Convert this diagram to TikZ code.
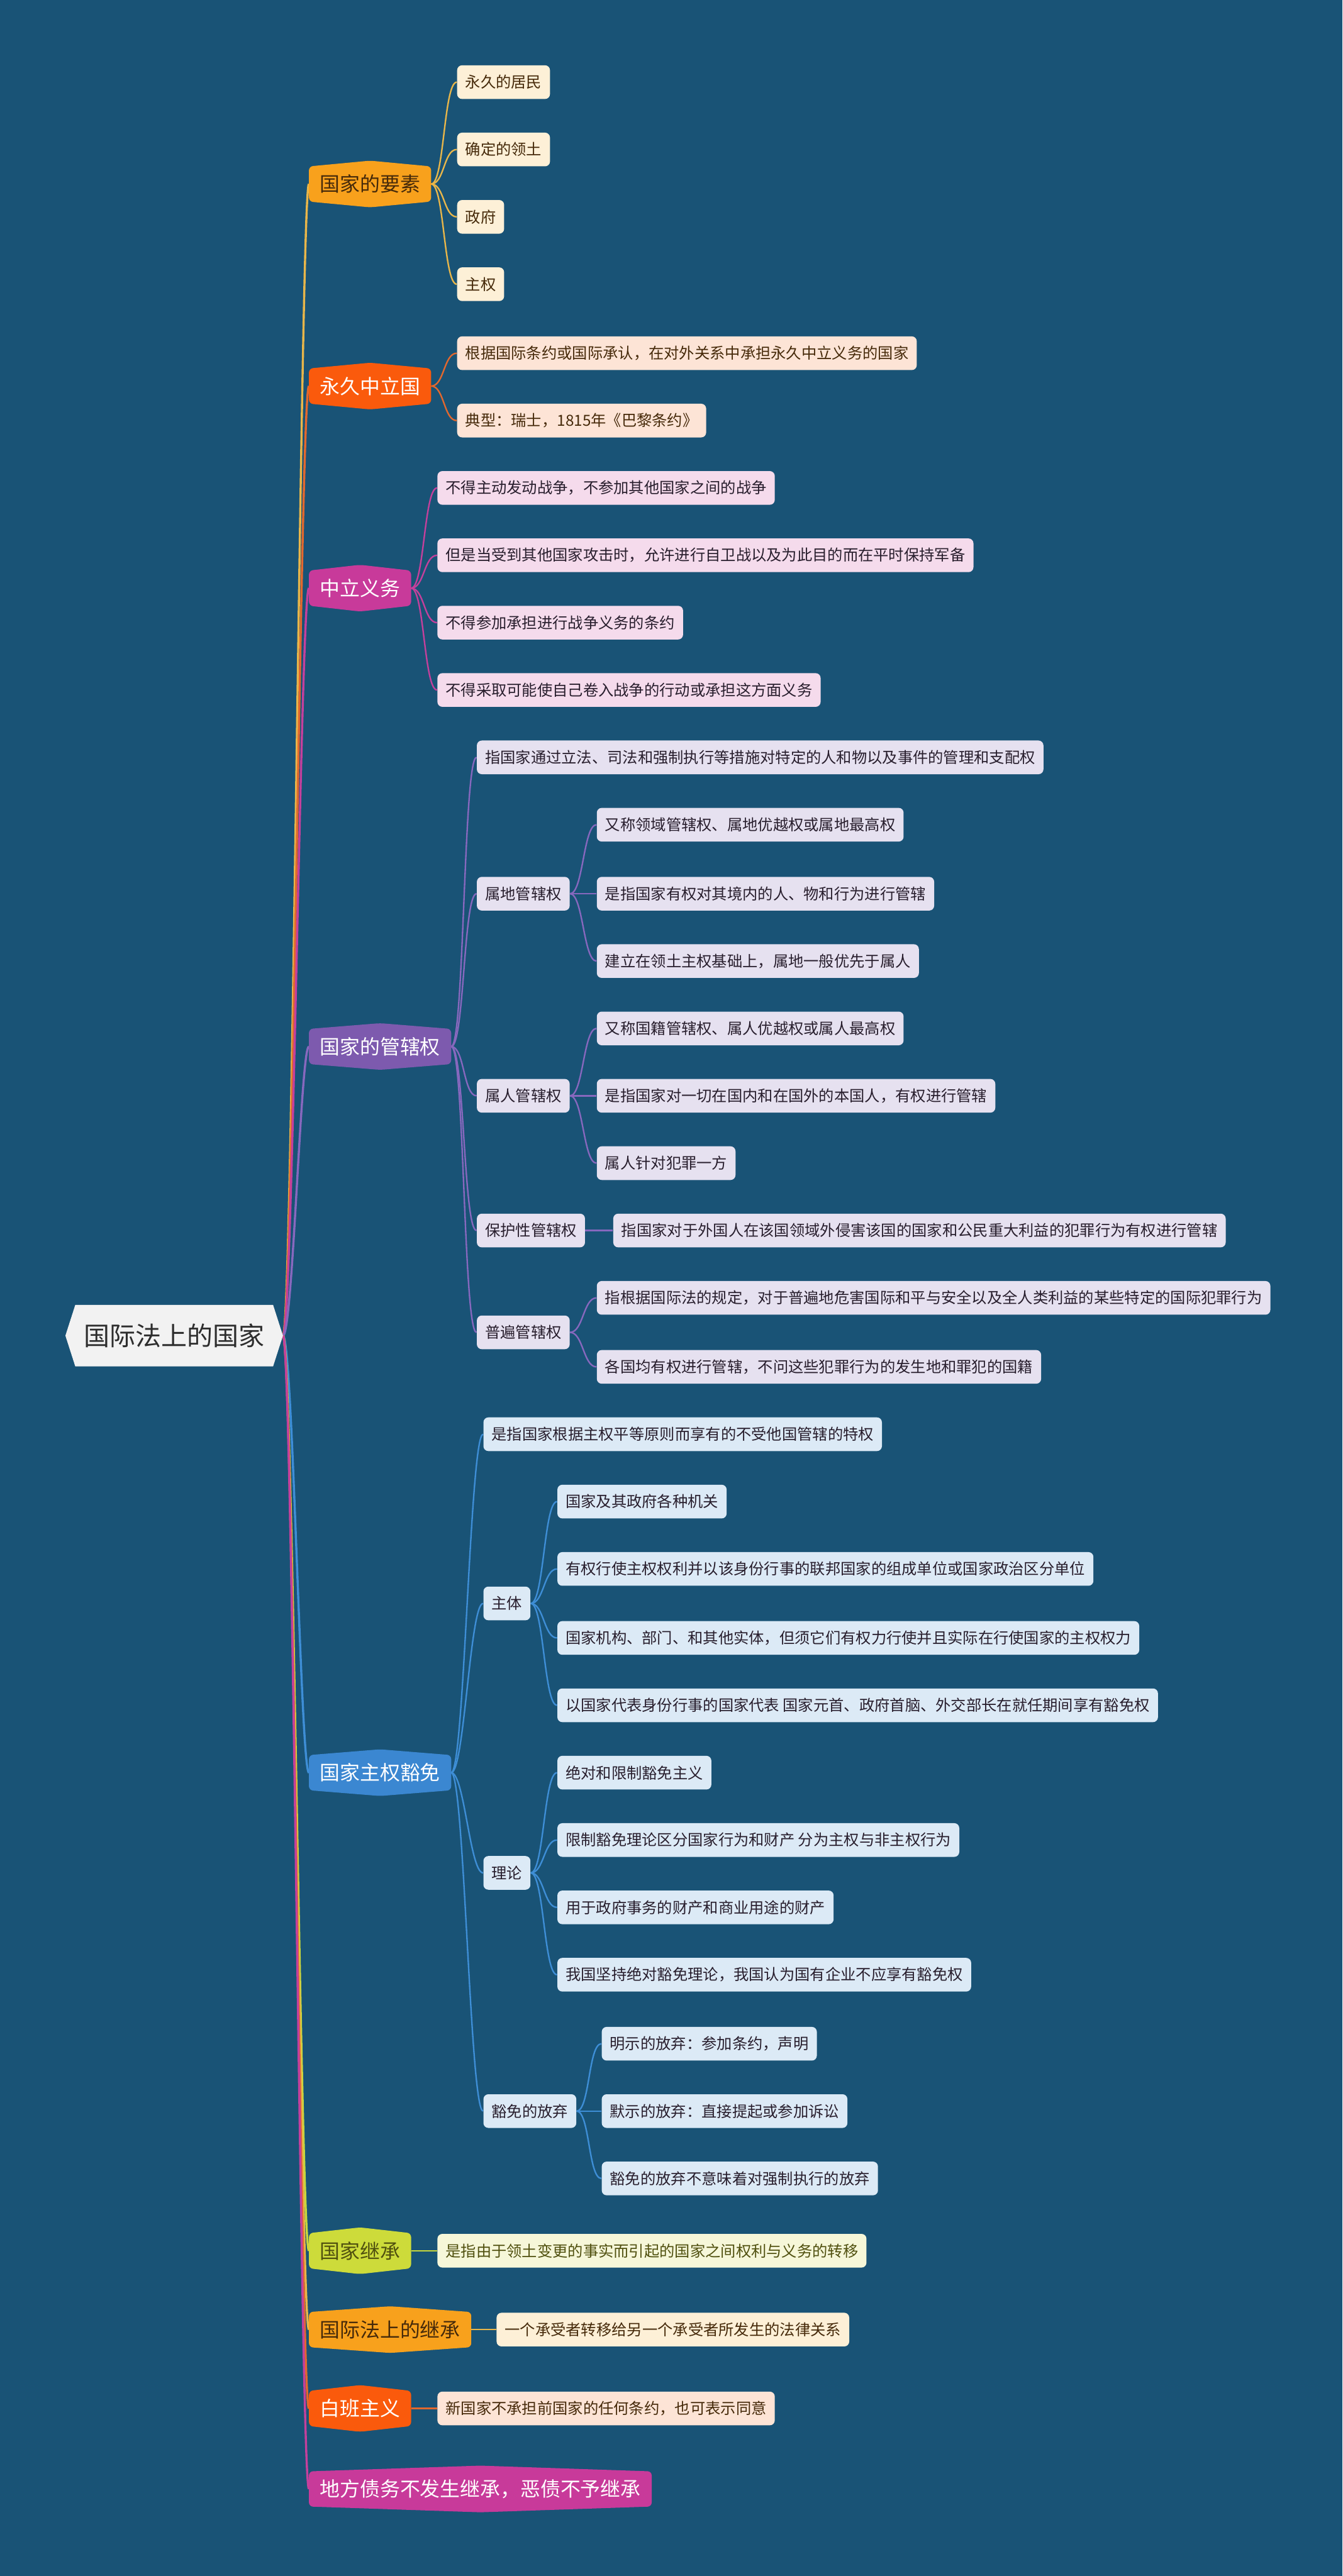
\documentclass[tikz,border=0pt]{standalone}
\usepackage{fontspec}
\setmainfont{Noto Sans CJK SC}
\usetikzlibrary{backgrounds,positioning}

\definecolor{bgblue}{RGB}{25,83,118}
\definecolor{rootfill}{RGB}{242,242,242}
\definecolor{rootink}{RGB}{45,45,45}
\definecolor{orangeB}{RGB}{248,161,28}
\definecolor{redB}{RGB}{250,90,12}
\definecolor{magentaB}{RGB}{200,58,154}
\definecolor{purpleB}{RGB}{125,90,174}
\definecolor{blueB}{RGB}{59,135,209}
\definecolor{limeB}{RGB}{205,219,58}
\definecolor{orangeL}{RGB}{232,182,74}
\definecolor{redL}{RGB}{226,104,46}
\definecolor{magentaL}{RGB}{196,64,156}
\definecolor{purpleL}{RGB}{135,104,190}
\definecolor{blueL}{RGB}{62,142,214}
\definecolor{limeL}{RGB}{200,215,60}
\definecolor{creamF}{RGB}{253,240,215}
\definecolor{peachF}{RGB}{253,228,214}
\definecolor{pinkF}{RGB}{245,219,236}
\definecolor{lavF}{RGB}{230,225,240}
\definecolor{skyF}{RGB}{220,234,246}
\definecolor{yellowF}{RGB}{246,247,217}
\definecolor{brownink}{RGB}{70,42,10}
\definecolor{darkink}{RGB}{40,30,45}
\definecolor{oliveink}{RGB}{80,80,15}

\begin{document}
\begin{tikzpicture}[x=1pt, y=-1pt,
  root/.style={font=\fontsize{15.7}{18}\selectfont, text=rootink, minimum width=120pt, minimum height=37pt, inner sep=0pt},
  branch/.style={anchor=west, font=\fontsize{12.2}{14}\selectfont, inner xsep=6.5pt, inner ysep=0pt, minimum height=21pt},
  leaf/.style={anchor=west, rounded corners=3pt, font=\fontsize{9.3}{11}\selectfont, inner xsep=5pt, inner ysep=0pt, minimum height=20.5pt},
  creamleaf/.style={leaf, fill=creamF, text=brownink},
  peachleaf/.style={leaf, fill=peachF, text=brownink},
  pinkleaf/.style={leaf, fill=pinkF, text=darkink},
  lavleaf/.style={leaf, fill=lavF, text=darkink},
  skyleaf/.style={leaf, fill=skyF, text=darkink},
  yellowleaf/.style={leaf, fill=yellowF, text=oliveink},
  lk/.style={line width=0.9pt},
  trunk/.style={line width=1.3pt}
]
\useasboundingbox (0,0) rectangle (817,1568);

\node[root] (root) at (106,813) {国际法上的国家};
\coordinate (rtip) at ([xshift=6pt]root.east);

% main branches
\foreach \n/\y/\t/\ink in {elements/112/国家的要素/brownink, neutral/235/永久中立国/white,
    duties/358/中立义务/white, jurisdiction/637/国家的管辖权/white,
    immunity/1079/国家主权豁免/white, succession/1370/国家继承/oliveink,
    inherit/1418/国际法上的继承/brownink, cleanslate/1466/白班主义/white,
    localdebt/1515/地方债务不发生继承，恶债不予继承/white}
  \node[branch, text=\ink] (\n) at (188,\y) {\t};

% 国家的要素, 永久中立国, 中立义务
\foreach \n/\y/\t in {elem1/50/永久的居民, elem2/91/确定的领土, elem3/132/政府, elem4/173/主权}
  \node[creamleaf] (\n) at (278,\y) {\t};
\foreach \n/\y/\t in {neut1/215/根据国际条约或国际承认，在对外关系中承担永久中立义务的国家,
    neut2/256/典型：瑞士，1815年《巴黎条约》}
  \node[peachleaf] (\n) at (278,\y) {\t};
\foreach \n/\y/\t in {duty1/297/不得主动发动战争，不参加其他国家之间的战争,
    duty2/338/但是当受到其他国家攻击时，允许进行自卫战以及为此目的而在平时保持军备,
    duty3/379/不得参加承担进行战争义务的条约,
    duty4/420/不得采取可能使自己卷入战争的行动或承担这方面义务}
  \node[pinkleaf] (\n) at (266,\y) {\t};

% 国家的管辖权
\foreach \n/\y/\t in {jur0/461/指国家通过立法、司法和强制执行等措施对特定的人和物以及事件的管理和支配权,
    jurTerr/544/属地管辖权, jurPers/667/属人管辖权, jurProt/749/保护性管辖权, jurUniv/811/普遍管辖权}
  \node[lavleaf] (\n) at (290,\y) {\t};
\foreach \n/\y/\t in {terr1/502/又称领域管辖权、属地优越权或属地最高权,
    terr2/544/是指国家有权对其境内的人、物和行为进行管辖,
    terr3/585/建立在领土主权基础上，属地一般优先于属人,
    pers1/626/又称国籍管辖权、属人优越权或属人最高权,
    pers2/667/是指国家对一切在国内和在国外的本国人，有权进行管辖,
    pers3/708/属人针对犯罪一方,
    univ1/790/指根据国际法的规定，对于普遍地危害国际和平与安全以及全人类利益的某些特定的国际犯罪行为,
    univ2/832/各国均有权进行管辖，不问这些犯罪行为的发生地和罪犯的国籍}
  \node[lavleaf] (\n) at (363,\y) {\t};
\node[lavleaf] (prot1) at (373,749) {指国家对于外国人在该国领域外侵害该国的国家和公民重大利益的犯罪行为有权进行管辖};

% 国家主权豁免
\foreach \n/\y/\t in {imm0/873/是指国家根据主权平等原则而享有的不受他国管辖的特权,
    immSubj/976/主体, immTheo/1140/理论, immWaiv/1285/豁免的放弃}
  \node[skyleaf] (\n) at (294,\y) {\t};
\foreach \n/\y/\t in {subj1/914/国家及其政府各种机关,
    subj2/955/有权行使主权权利并以该身份行事的联邦国家的组成单位或国家政治区分单位,
    subj3/997/国家机构、部门、和其他实体，但须它们有权力行使并且实际在行使国家的主权权力,
    subj4/1038/以国家代表身份行事的国家代表 国家元首、政府首脑、外交部长在就任期间享有豁免权,
    theo1/1079/绝对和限制豁免主义,
    theo2/1120/限制豁免理论区分国家行为和财产 分为主权与非主权行为,
    theo3/1161/用于政府事务的财产和商业用途的财产,
    theo4/1202/我国坚持绝对豁免理论，我国认为国有企业不应享有豁免权}
  \node[skyleaf] (\n) at (339,\y) {\t};
\foreach \n/\y/\t in {waiv1/1244/明示的放弃：参加条约，声明,
    waiv2/1285/默示的放弃：直接提起或参加诉讼,
    waiv3/1326/豁免的放弃不意味着对强制执行的放弃}
  \node[skyleaf] (\n) at (366,\y) {\t};

% 继承
\node[yellowleaf] (succ1) at (266,1370) {是指由于领土变更的事实而引起的国家之间权利与义务的转移};
\node[creamleaf] (inhe1) at (302,1418) {一个承受者转移给另一个承受者所发生的法律关系};
\node[peachleaf] (clean1) at (266,1466) {新国家不承担前国家的任何条约，也可表示同意};

\begin{scope}[on background layer]
  \fill[bgblue] (0,0) rectangle (817,1568);

  % trunk lines from the root
  \foreach \n/\c in {elements/orangeL, neutral/redL, duties/magentaL, jurisdiction/purpleL,
      immunity/blueL, succession/limeL, inherit/orangeL, cleanslate/redL, localdebt/magentaL}
    \draw[trunk, \c] (rtip) .. controls +(6,0) and +(-5,0) .. (\n.west);

  % branch to leaf
  \foreach \a/\b/\c in {elements/elem1/orangeL, elements/elem2/orangeL, elements/elem3/orangeL, elements/elem4/orangeL,
      neutral/neut1/redL, neutral/neut2/redL,
      duties/duty1/magentaL, duties/duty2/magentaL, duties/duty3/magentaL, duties/duty4/magentaL,
      jurisdiction/jur0/purpleL, jurisdiction/jurTerr/purpleL, jurisdiction/jurPers/purpleL,
      jurisdiction/jurProt/purpleL, jurisdiction/jurUniv/purpleL,
      jurTerr/terr1/purpleL, jurTerr/terr2/purpleL, jurTerr/terr3/purpleL,
      jurPers/pers1/purpleL, jurPers/pers2/purpleL, jurPers/pers3/purpleL,
      jurProt/prot1/purpleL, jurUniv/univ1/purpleL, jurUniv/univ2/purpleL,
      immunity/imm0/blueL, immunity/immSubj/blueL, immunity/immTheo/blueL, immunity/immWaiv/blueL,
      immSubj/subj1/blueL, immSubj/subj2/blueL, immSubj/subj3/blueL, immSubj/subj4/blueL,
      immTheo/theo1/blueL, immTheo/theo2/blueL, immTheo/theo3/blueL, immTheo/theo4/blueL,
      immWaiv/waiv1/blueL, immWaiv/waiv2/blueL, immWaiv/waiv3/blueL,
      succession/succ1/limeL, inherit/inhe1/orangeL, cleanslate/clean1/redL}
    \draw[lk, \c] (\a.east) .. controls +(8,0) and +(-8,0) .. (\b.west);

  % hexagon bodies
  \fill[rootfill] (root.north west) -- (root.north east) -- (rtip) -- (root.south east)
    -- (root.south west) -- ([xshift=-6pt]root.west) -- cycle;
  \foreach \n/\c in {elements/orangeB, neutral/redB, duties/magentaB, jurisdiction/purpleB,
      immunity/blueB, succession/limeB, inherit/orangeB, cleanslate/redB, localdebt/magentaB}
    \fill[\c, rounded corners=2.5pt] (\n.north west) -- ([yshift=3.5pt]\n.north) -- (\n.north east)
      -- (\n.south east) -- ([yshift=-3.5pt]\n.south) -- (\n.south west) -- cycle;
\end{scope}

\end{tikzpicture}
\end{document}
